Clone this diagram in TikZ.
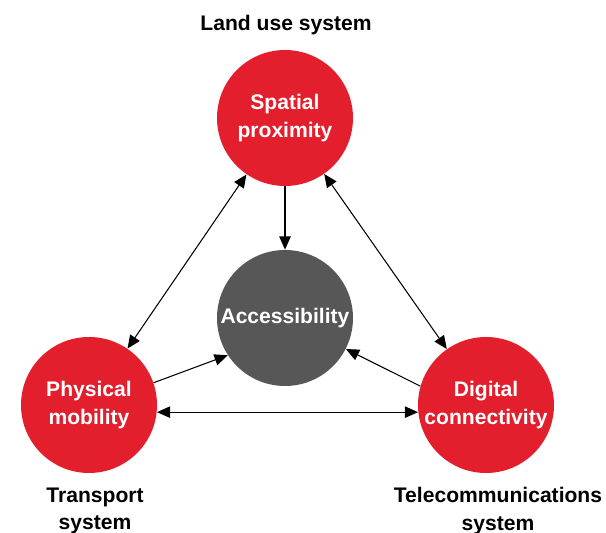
\documentclass[tikz,border=0pt]{standalone}
\usepackage{fontspec}
\setmainfont{Liberation Sans}
\usetikzlibrary{arrows.meta}
\definecolor{hubred}{RGB}{227,30,45}
\definecolor{hubgray}{RGB}{87,87,87}

\begin{document}
\begin{tikzpicture}[
    font=\fontsize{12}{15.5}\selectfont\bfseries,
    >={Triangle[length=7.5pt,width=6.5pt]},
    hub/.style={circle,fill=hubred,text=white,minimum size=2.72cm,inner sep=0pt,align=center},
    link/.style={line width=0.6pt}]
    \useasboundingbox (0,0) rectangle (12.12,-10.66);
    % the four circles
    \node[hub] (spatial) at (5.70,-2.36) {Spatial\\proximity};
    \node[hub,fill=hubgray] (access) at (5.70,-6.36) {Accessibility};
    \node[hub] (physical) at (1.78,-8.10) {Physical\\mobility};
    \node[hub] (digital) at (9.72,-8.10) {Digital\\connectivity};
    % system labels
    \node (land) at (5.72,-0.50) {Land use system};
    \node[align=center] (transport) at (1.90,-10.22) {Transport\\system};
    \node[align=center] (telecom) at (9.96,-10.22) {Telecommunications\\system};
    % links
    \draw[link,<->] (spatial) -- (physical);
    \draw[link,<->] (spatial) -- (digital);
    \draw[link,<->] (physical.-6) -- (digital.186);
    \draw[link,->] (spatial) -- (access);
    \draw[link,->] (physical.19) -- (access.213);
    \draw[link,->] (digital.164) -- (access.333);
\end{tikzpicture}
\end{document}
